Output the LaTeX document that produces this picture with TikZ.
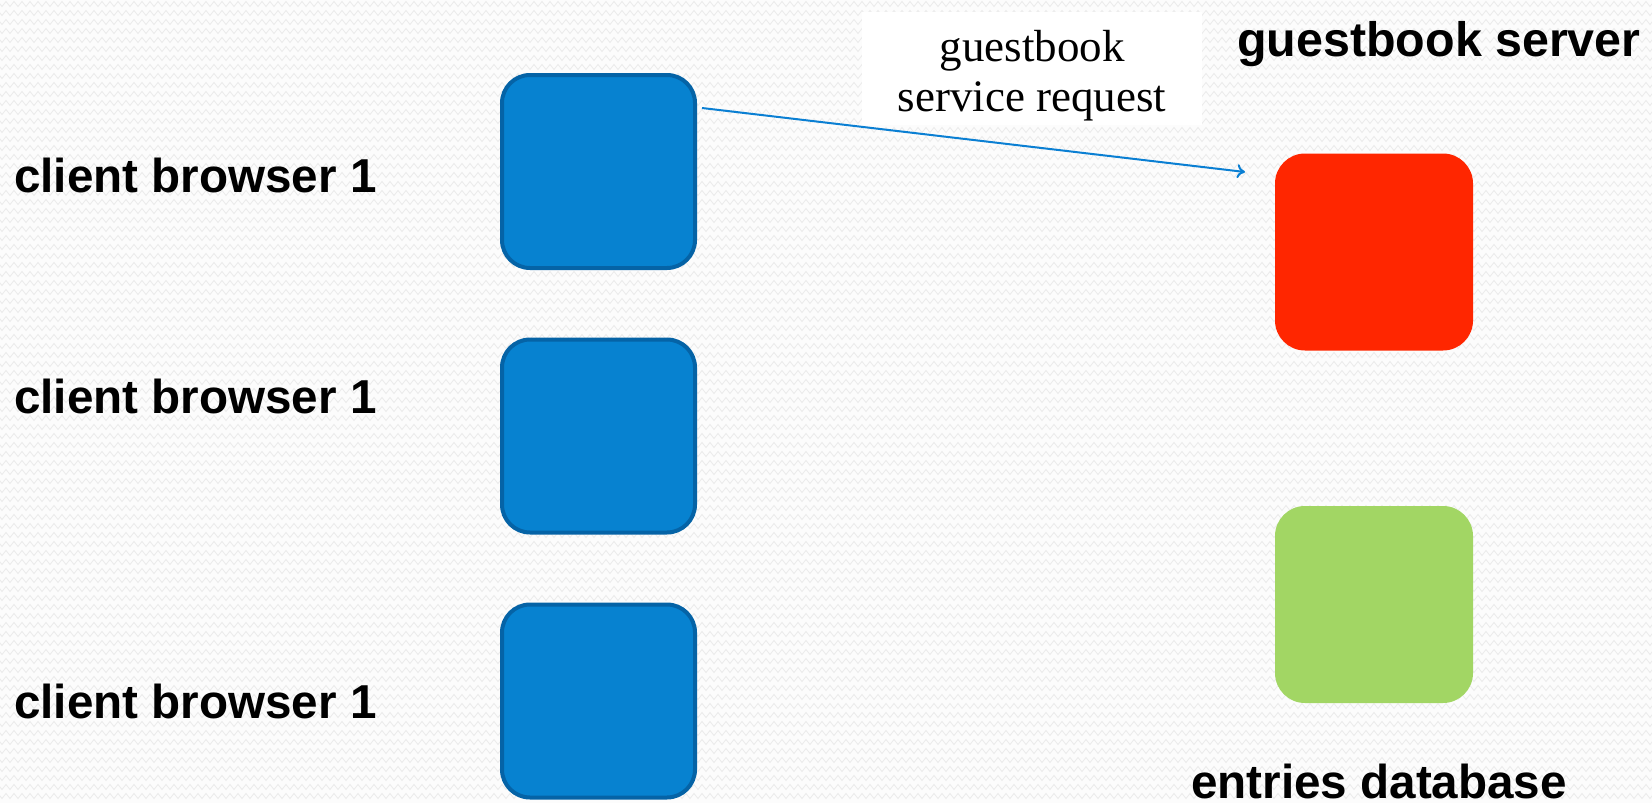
\documentclass[tikz,border=0pt]{standalone}
\usepackage{fontspec}
\setmainfont{Liberation Serif}
\newfontfamily\headfont{Liberation Sans}
\usetikzlibrary{arrows.meta,calc,decorations.pathmorphing}

\definecolor{pagebg}{HTML}{FCFCFC}
\definecolor{pagezig}{HTML}{ECECEC}
\definecolor{clientfill}{HTML}{0782D0}
\definecolor{clientedge}{HTML}{0563A6}
\definecolor{serverred}{HTML}{FF2600}
\definecolor{dbgreen}{HTML}{A2D664}
\definecolor{reqblue}{HTML}{0A7FD3}

\begin{document}
\begin{tikzpicture}[x=1pt,y=-1pt,
  clientbox/.style={draw=clientedge, line width=4pt, fill=clientfill,
    rounded corners=28pt, minimum width=193pt, minimum height=193pt,
    inner sep=0pt},
  tierbox/.style={rounded corners=30pt, minimum width=198pt,
    minimum height=197pt, inner sep=0pt},
  bigtag/.style={font=\headfont\bfseries\fontsize{47.6}{56}\selectfont,
    inner sep=0pt, anchor=base west},
  notebox/.style={fill=white, minimum width=340pt, minimum height=113pt,
    inner sep=0pt},
  notetext/.style={align=center, inner sep=0pt,
    font=\fontsize{45}{50}\selectfont},
  request/.style={draw=reqblue, line width=2pt,
    -{To[length=8pt,width=14pt]}},
  texture/.style={draw=pagezig, line width=0.9pt,
    decorate, decoration={zigzag, segment length=8pt, amplitude=2.5pt}}]

  % page with its faint zigzag texture
  \useasboundingbox (0,0) rectangle (1652,803);
  \fill[pagebg] (0,0) rectangle (1652,803);
  \begin{scope}
    \clip (0,0) rectangle (1652,803);
    \foreach \row in {4,13,...,803}
      \draw[texture] (-4,\row) -- (1660,\row);
  \end{scope}

  % clients
  \node[clientbox] (c1) at (598.5,171.5) {};
  \node[clientbox] (c2) at (598.5,436) {};
  \node[clientbox] (c3) at (598.5,701) {};

  \node[bigtag] (c1tag) at (14,192) {client browser 1};
  \node[bigtag] (c2tag) at (14,413) {client browser 1};
  \node[bigtag] (c3tag) at (14,718) {client browser 1};

  % server and database
  \node[tierbox, fill=serverred] (srv) at (1374,252) {};
  \node[tierbox, fill=dbgreen] (db) at (1374,604.5) {};

  \node[bigtag, font=\headfont\bfseries\fontsize{48.4}{56}\selectfont]
    (srvtag) at (1237,56) {guestbook server};
  \node[bigtag] (dbtag) at (1191,798) {entries database};

  % request label
  \node[notebox] (reqnote) at (1032,68.5) {};
  \node[notetext] (reqtext) at (1032,76) {guestbook\\service request};

  % request arrow
  \coordinate (reqstart) at ($(c1.east)+(5,-63.5)$);
  \coordinate (reqend) at (1245,172);
  \draw[request] (reqstart) -- (reqend);
\end{tikzpicture}
\end{document}
